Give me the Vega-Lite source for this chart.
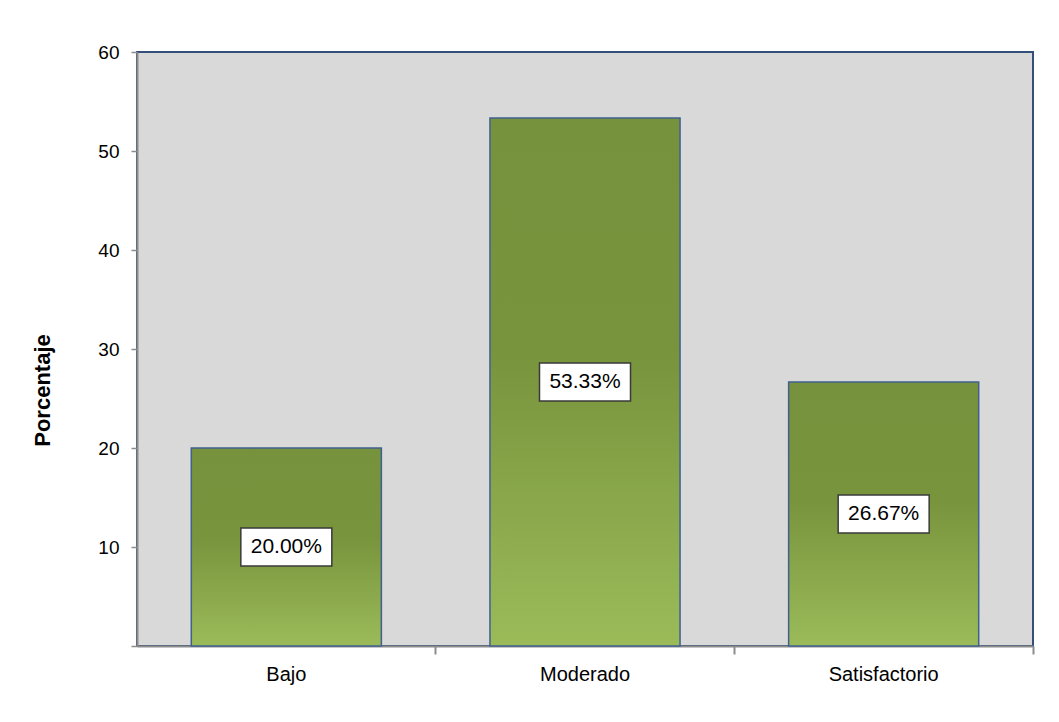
{
  "$schema": "https://vega.github.io/schema/vega-lite/v6.json",
  "width": 896,
  "height": 594,
  "autosize": "none",
  "padding": {"left": 137, "top": 52, "right": 26, "bottom": 76},
  "background": "white",
  "data": {
    "values": [
      {"nivel": "Bajo", "porcentaje": 20.0, "etiqueta": "20.00%"},
      {"nivel": "Moderado", "porcentaje": 53.33, "etiqueta": "53.33%"},
      {"nivel": "Satisfactorio", "porcentaje": 26.67, "etiqueta": "26.67%"}
    ]
  },
  "config": {
    "view": {"fill": "#D9D9D9", "stroke": "#34507A", "strokeWidth": 2},
    "font": "Liberation Sans"
  },
  "layer": [
    {
      "mark": {
        "type": "bar",
        "opacity": 1,
        "fill": {
          "gradient": "linear",
          "x1": 0, "y1": 0, "x2": 0, "y2": 1,
          "stops": [
            {"offset": 0, "color": "#76923C"},
            {"offset": 0.45, "color": "#78943D"},
            {"offset": 1, "color": "#9BBB59"}
          ]
        },
        "stroke": "#3F6090",
        "strokeWidth": 1.5
      },
      "encoding": {
        "x": {
          "field": "nivel",
          "type": "nominal",
          "sort": null,
          "scale": {"paddingInner": 0.3636, "paddingOuter": 0.1818},
          "axis": {
            "title": null,
            "bandPosition": 1.2857,
            "domainColor": "#8C8C8C",
            "domainWidth": 2,
            "tickColor": "#8C8C8C",
            "tickWidth": 2,
            "tickSize": 8,
            "labelFontSize": 20,
            "labelColor": "black",
            "labelPadding": 10,
            "labelAngle": 0
          }
        },
        "y": {
          "field": "porcentaje",
          "type": "quantitative",
          "scale": {"domain": [0, 60], "nice": false},
          "axis": {
            "title": "Porcentaje",
            "values": [0, 10, 20, 30, 40, 50, 60],
            "labelExpr": "datum.value == 0 ? '' : datum.label",
            "grid": false,
            "domainColor": "#8C8C8C",
            "domainWidth": 2,
            "tickColor": "#8C8C8C",
            "tickWidth": 1.5,
            "tickSize": 6,
            "labelFontSize": 19,
            "labelColor": "black",
            "labelPadding": 12,
            "titleFontSize": 22,
            "titleFontWeight": "bold",
            "titleColor": "black",
            "titleX": -95,
            "titleY": 338,
            "titleBaseline": "middle"
          }
        }
      }
    },
    {
      "mark": {
        "type": "tick",
        "size": 91,
        "thickness": 38,
        "opacity": 1,
        "fill": "white",
        "stroke": "#3A3A3A",
        "strokeWidth": 1.5
      },
      "encoding": {
        "x": {"field": "nivel", "type": "nominal", "sort": null},
        "y": {
          "field": "porcentaje",
          "type": "quantitative",
          "scale": {"domain": [0, 120], "nice": false},
          "axis": null
        }
      }
    },
    {
      "mark": {"type": "text", "fontSize": 21, "color": "black"},
      "encoding": {
        "x": {"field": "nivel", "type": "nominal", "sort": null},
        "y": {
          "field": "porcentaje",
          "type": "quantitative",
          "scale": {"domain": [0, 120], "nice": false},
          "axis": null
        },
        "text": {"field": "etiqueta"}
      }
    }
  ],
  "resolve": {"scale": {"y": "independent"}}
}
